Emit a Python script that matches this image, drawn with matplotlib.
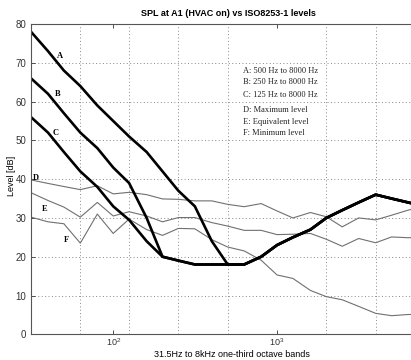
import matplotlib
matplotlib.use("Agg")
import matplotlib.pyplot as plt
from matplotlib.ticker import LogFormatterSciNotation, NullFormatter

# One-third octave band centre frequencies (Hz)
freqs = [31.5, 40, 50, 63, 80, 100, 125, 160, 200, 250, 315, 400, 500, 630,
         800, 1000, 1250, 1600, 2000, 2500, 3150, 4000, 5000, 6300, 8000]

# ISO 8253-1 maximum permissible ambient levels
iso_A = [78, 73, 68, 64, 59, 55, 51, 47, 42, 37, 33, 24, 18, 18,
         20, 23, 25, 27, 30, 32, 34, 36, 35, 34, 33]
iso_B = [66, 62, 57, 52, 48, 43, 39, 30, 20, 19, 18, 18, 18, 18,
         20, 23, 25, 27, 30, 32, 34, 36, 35, 34, 33]
iso_C = [56, 52, 47, 42, 38, 33, 29.5, 24, 20, 19, 18, 18, 18, 18,
         20, 23, 25, 27, 30, 32, 34, 36, 35, 34, 33]

# Measured levels at A1 (HVAC on)
lvl_max = [39.8, 38.9, 38.1, 37.3, 38.3, 36.2, 36.6, 36.0, 34.9, 34.8, 34.4, 34.4,
           33.5, 32.9, 33.7, 31.8, 30.0, 31.4, 30.3, 27.7, 30.0, 29.5, 30.7, 32.0, 33.0]
lvl_eq = [36.5, 34.5, 32.8, 30.2, 34.0, 30.5, 31.6, 30.5, 29.0, 30.1, 30.1, 28.8,
          27.9, 26.8, 26.8, 25.7, 25.8, 26.0, 24.5, 22.7, 24.7, 23.6, 25.1, 24.9, 25.0]
lvl_min = [30.2, 29.0, 28.5, 23.5, 31.0, 26.0, 29.7, 27.0, 25.5, 27.3, 27.2, 24.4,
           22.5, 21.5, 19.1, 15.3, 14.4, 11.3, 9.7, 8.9, 7.2, 5.4, 4.8, 5.1, 5.2]

octave_grid = [63, 125, 250, 500, 1000, 2000, 4000]
yticks = [0, 10, 20, 30, 40, 50, 60, 70, 80]

curve_labels = ["A", "B", "C", "D", "E", "F"]
label_pos = [(47.5, 71.7), (45.5, 62.0), (44.4, 51.9), (33.9, 40.3), (38.3, 32.3), (51.7, 24.4)]
legend_lines = ["A: 500 Hz to 8000 Hz", "B: 250 Hz to 8000 Hz", "C: 125 Hz to 8000 Hz",
                "D: Maximum level", "E: Equivalent level", "F: Minimum level"]

W, H = 411, 360
fig = plt.figure(figsize=(W / 100, H / 100), dpi=100)
ax = fig.add_axes([31 / W, 1 - 334.3 / H, (425 - 31) / W, (334.3 - 24) / H])

thin = dict(color="#707070", lw=0.8)
thick = dict(color="black", lw=1.9)
ax.plot(freqs, lvl_max, **thin)
ax.plot(freqs, lvl_eq, **thin)
ax.plot(freqs, lvl_min, **thin)
ax.plot(freqs, iso_A, **thick)
ax.plot(freqs, iso_B, **thick)
ax.plot(freqs, iso_C, **thick)

ax.set_xscale("log")
ax.set_xlim(31.5, 8000)
ax.set_ylim(0, 80)
ax.set_xticks([100, 1000])
ax.xaxis.set_major_formatter(LogFormatterSciNotation())
ax.set_xticks(octave_grid, minor=True)
ax.xaxis.set_minor_formatter(NullFormatter())
ax.set_yticks(yticks)

ax.tick_params(which="major", direction="in", length=3, width=0.6, labelsize=7,
               colors="#333333", top=True, right=True)
ax.tick_params(axis="x", which="major", pad=1.5, labelsize=6.5)
ax.tick_params(which="minor", length=0)
ax.grid(True, which="minor", axis="x", ls=(0, (1, 2.5)), color="#888888", lw=0.7)
ax.grid(True, which="major", axis="y", ls=(0, (1, 2.5)), color="#888888", lw=0.7)
for s in ax.spines.values():
    s.set_color("#555555")
    s.set_linewidth(0.8)

ax.set_title("SPL at A1 (HVAC on) vs ISO8253-1 levels", fontsize=6.5, fontweight="bold",
             family="Liberation Sans", pad=6)
ax.set_xlabel("31.5Hz to 8kHz one-third octave bands", fontsize=6.5, family="Liberation Sans")
ax.set_ylabel("Level [dB]", fontsize=6.5, family="Liberation Sans")
ax.xaxis.set_label_coords(0.51, -0.05)
ax.yaxis.set_label_coords(-0.038, 0.51)
for lab in ax.get_xticklabels() + ax.get_yticklabels():
    lab.set_family("Liberation Sans")

for lab, (fx, fy) in zip(curve_labels, label_pos):
    ax.text(fx, fy, lab, fontsize=6, family="Liberation Serif", fontweight="bold",
            ha="center", va="center")

leg_y = [71, 82.3, 95, 110, 121.7, 133.3]
for txt, py in zip(legend_lines, leg_y):
    fig.text(243.3 / W, 1 - py / H, txt, fontsize=6, family="Liberation Serif",
             ha="left", va="center", color="#222222")

fig.savefig("out.png", dpi=100)
